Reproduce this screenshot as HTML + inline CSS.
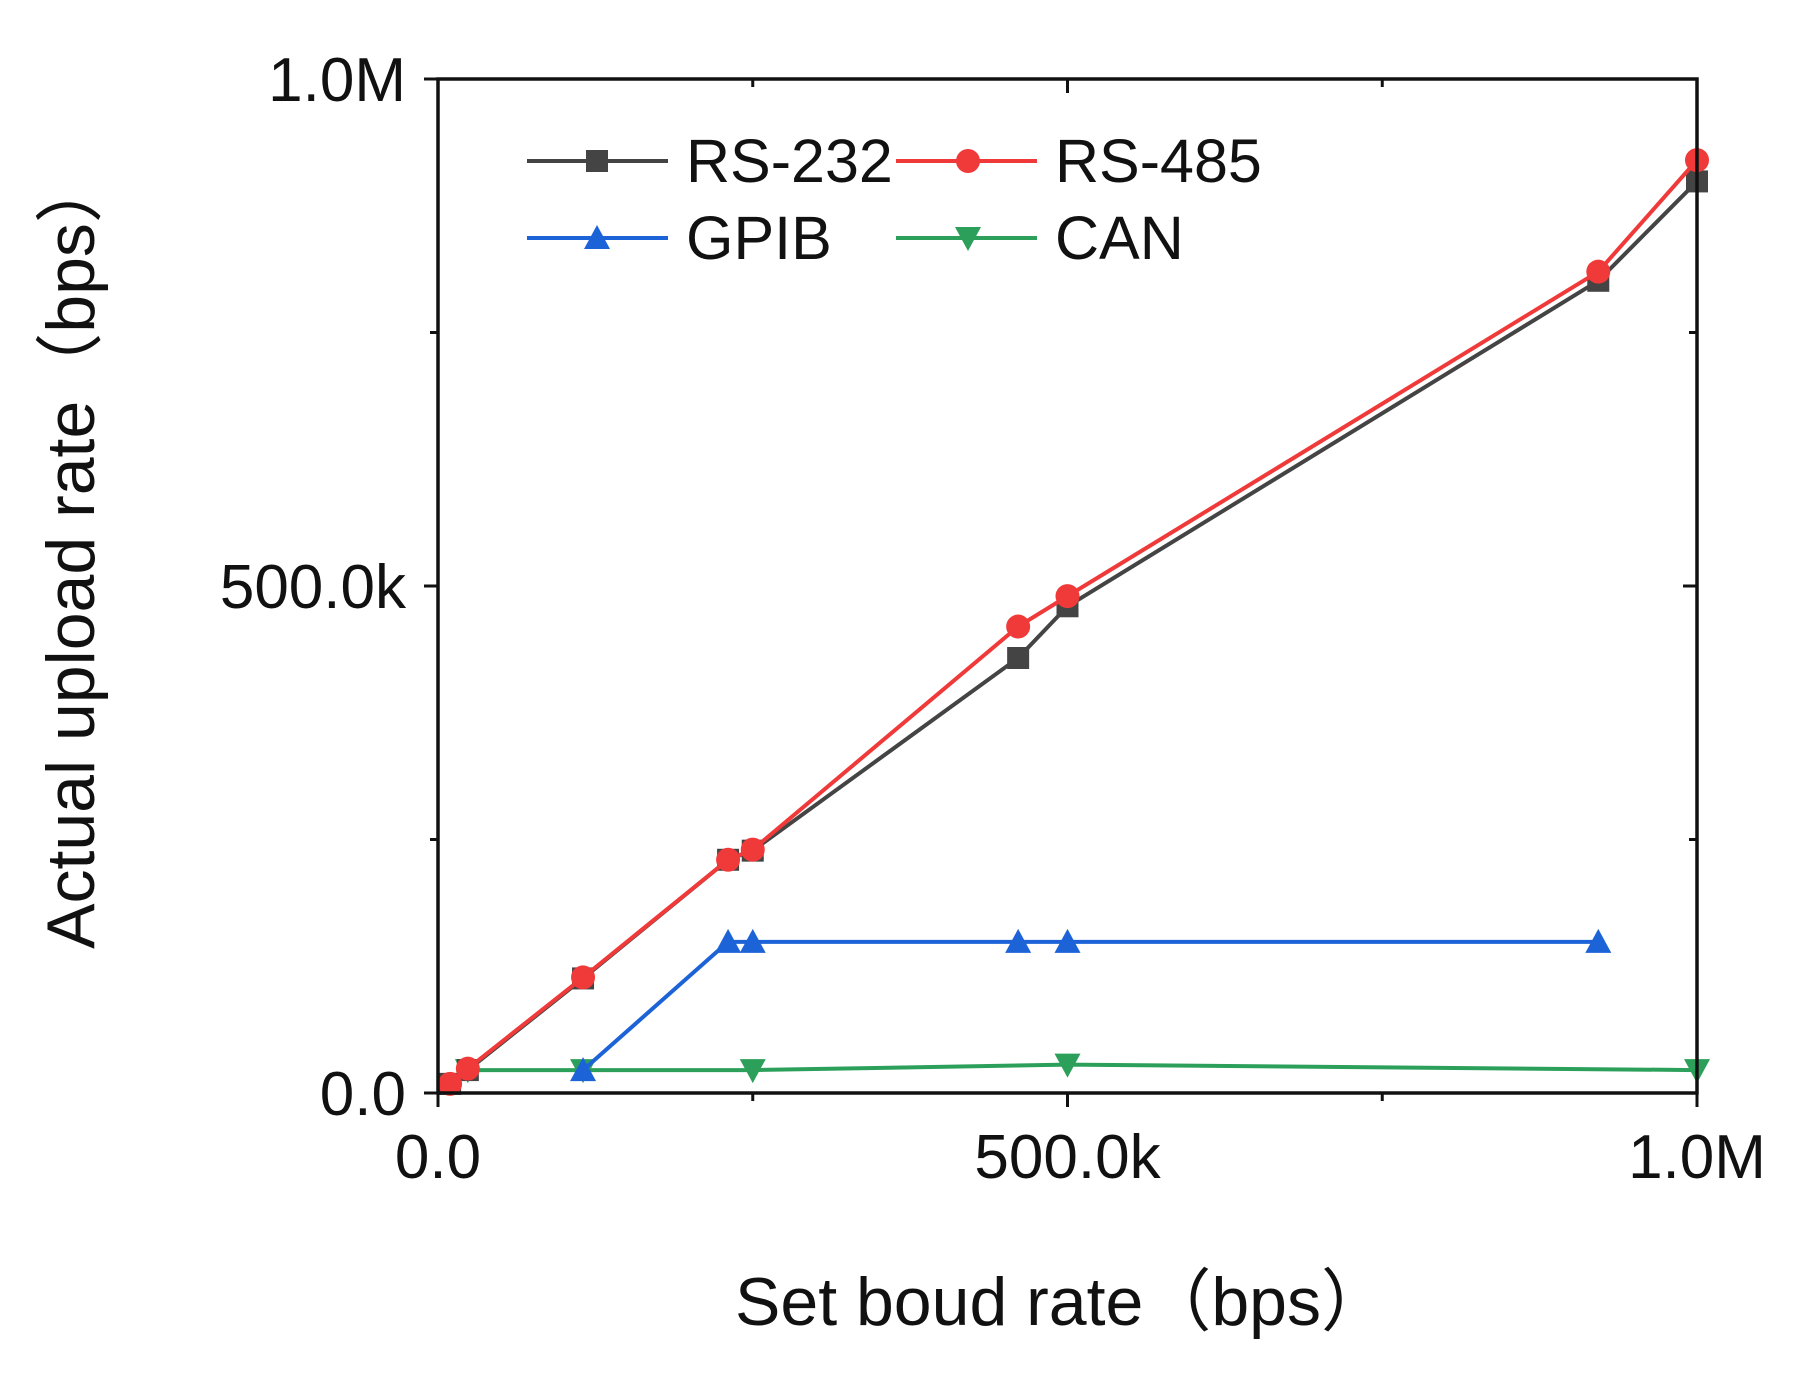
<!DOCTYPE html>
<html><head><meta charset="utf-8"><style>
body{margin:0;background:#fff}
svg text{font-family:"Liberation Sans","Noto Sans CJK SC",sans-serif;fill:#111}
</style></head><body>
<svg id="c" width="1797" height="1372" viewBox="0 0 1797 1372" xmlns="http://www.w3.org/2000/svg"></svg>
<script>
const xVals=[9600,23700,115200,230400,250000,460800,500000,921600,1000000];
const rs232=[9000,22600,113000,230000,239000,429000,480000,801000,899000];
const rs485=[9000,24000,114000,230000,240000,460000,490000,810000,920000];
const gpibX=[115200,230400,250000,460800,500000,921600];
const gpib=[22600,149000,149000,149000,149000,149000];
const canX=[23700,115200,250000,500000,1000000];
const can=[22600,22600,22600,28000,22600];
const xTicks=[0,500000,1000000];
const xTickLabels=["0.0","500.0k","1.0M"];
const yTicks=[0,500000,1000000];
const yTickLabels=["0.0","500.0k","1.0M"];
const X0=438,X1=1697,Y0=1093,Y1=79;
const sx=v=>X0+(X1-X0)*v/1e6, sy=v=>Y0-(Y0-Y1)*v/1e6;
const svg=document.getElementById('c');const NS="http://www.w3.org/2000/svg";
function mk(t,a,p){const e=document.createElementNS(NS,t);for(const k in a)e.setAttribute(k,a[k]);(p||svg).appendChild(e);return e;}
function marker(type,x,y,col,g){
 if(type==='sq')return mk('rect',{x:x-11,y:y-11,width:22,height:22,fill:col},g);
 if(type==='ci')return mk('circle',{cx:x,cy:y,r:12,fill:col},g);
 if(type==='up')return mk('polygon',{points:`${x},${y-13} ${x+13},${y+11} ${x-13},${y+11}`,fill:col},g);
 return mk('polygon',{points:`${x},${y+13} ${x+13},${y-11} ${x-13},${y-11}`,fill:col},g);
}
function series(name,xs,ys,col,type){
 const g=mk('g',{});
 
 
 mk('polyline',{points:xs.map((x,i)=>sx(x)+','+sy(ys[i])).join(' '),fill:'none',stroke:col,'stroke-width':4},g);
 xs.forEach((x,i)=>{const m=marker(type,sx(x),sy(ys[i]),col,g);
  
  });
}
series('can',canX,can,'#2ca05a','dn');
series('gpib',gpibX,gpib,'#1d63d8','up');
series('rs-232',xVals,rs232,'#444','sq');
series('rs-485',xVals,rs485,'#f03a3a','ci');
const ax=mk('rect',{x:X0,y:Y1,width:X1-X0,height:Y0-Y1,fill:'none',stroke:'#111','stroke-width':3.5});

[0,250000,500000,750000,1000000].forEach(v=>{
 const L=(v%500000===0)?14:8;
 mk('line',{x1:sx(v),x2:sx(v),y1:Y0,y2:Y0+L,stroke:'#111','stroke-width':3});
 mk('line',{x1:sx(v),x2:sx(v),y1:Y1,y2:Y1+L,stroke:'#111','stroke-width':3});
 mk('line',{x1:X0-L,x2:X0,y1:sy(v),y2:sy(v),stroke:'#111','stroke-width':3});
 mk('line',{x1:X1-L,x2:X1,y1:sy(v),y2:sy(v),stroke:'#111','stroke-width':3});
});
xTicks.forEach((v,i)=>{const t=mk('text',{x:sx(v),y:1178,'text-anchor':'middle','font-size':62});t.textContent=xTickLabels[i];
 });
yTicks.forEach((v,i)=>{const t=mk('text',{x:406,y:sy(v)+22,'text-anchor':'end','font-size':62});t.textContent=yTickLabels[i];
 });
</script>
<svg style="position:absolute;left:0;top:0" width="1797" height="1372">
<text x="1062" y="1325" text-anchor="middle" font-size="68">Set boud rate（bps）</text>
<text transform="translate(94,552) rotate(-90)" text-anchor="middle" font-size="68">Actual upload rate（bps）</text>
<g>
<g><line x1="527" x2="668" y1="161" y2="161" stroke="#444" stroke-width="4"/><rect x="586" y="150" width="22" height="22" fill="#444"/><text x="686" y="182" font-size="61">RS-232</text></g>
<g><line x1="896" x2="1037" y1="161" y2="161" stroke="#f03a3a" stroke-width="4"/><circle cx="968" cy="161" r="12" fill="#f03a3a"/><text x="1055" y="182" font-size="61">RS-485</text></g>
<g><line x1="527" x2="668" y1="238" y2="238" stroke="#1d63d8" stroke-width="4"/><polygon points="597,225 610,249 584,249" fill="#1d63d8"/><text x="686" y="259" font-size="61">GPIB</text></g>
<g><line x1="896" x2="1037" y1="238" y2="238" stroke="#2ca05a" stroke-width="4"/><polygon points="968,251 981,227 955,227" fill="#2ca05a"/><text x="1055" y="259" font-size="61">CAN</text></g>
</g>
</svg>
</body></html>
